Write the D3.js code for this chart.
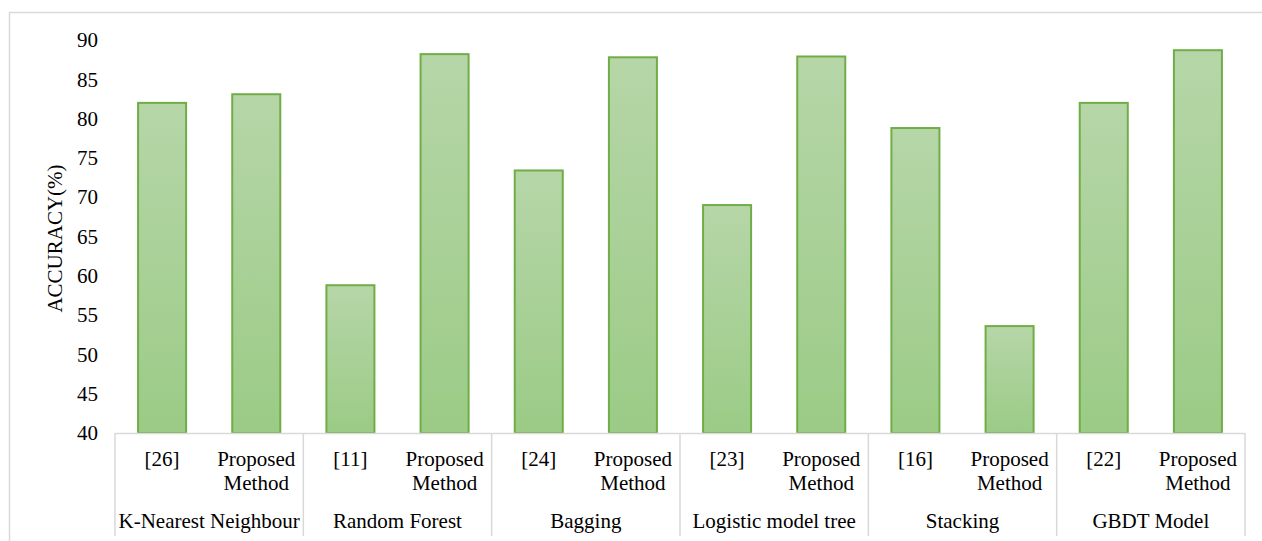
<!DOCTYPE html>
<html>
<head>
<meta charset="utf-8">
<script src="https://cdn.jsdelivr.net/npm/d3@7"></script>
<style>
  html, body { margin: 0; padding: 0; background: #fff; }
  svg { display: block; }
</style>
</head>
<body>
<svg id="chart" width="1262" height="541"></svg>
<script>
// Model groups and the two bars shown in each
const groups = ["K-Nearest Neighbour", "Random Forest", "Bagging", "Logistic model tree", "Stacking", "GBDT Model"];
const refLabels = ["[26]", "[11]", "[24]", "[23]", "[16]", "[22]"];
const refAccuracy = [82.0, 58.8, 73.4, 69.0, 78.8, 82.0];
const proposedAccuracy = [83.1, 88.2, 87.8, 87.9, 53.6, 88.7];
const yTicks = [40, 45, 50, 55, 60, 65, 70, 75, 80, 85, 90];

const FONT = "Liberation Serif";
const FS = "21px";

const bars = [];
groups.forEach((g, i) => {
  bars.push({ key: g + "|0", group: g, lines: [refLabels[i]], value: refAccuracy[i] });
  bars.push({ key: g + "|1", group: g, lines: ["Proposed", "Method"], value: proposedAccuracy[i] });
});

const svg = d3.select("#chart");
const W = 1262, H = 541;
const plotLeft = 115, plotRight = 1245, plotTop = 40, plotBottom = 433;

// chart area border
svg.append("rect")
  .attr("x", 9.5).attr("y", 12.5)
  .attr("width", W + 20).attr("height", H + 20)
  .attr("fill", "none").attr("stroke", "#d9d9d9").attr("stroke-width", 1.5);

const x = d3.scaleBand().domain(bars.map(d => d.key)).range([plotLeft, plotRight]).paddingInner(0.49).paddingOuter(0.245);
const y = d3.scaleLinear().domain([40, 90]).range([plotBottom, plotTop]);

const defs = svg.append("defs");
const grad = defs.append("linearGradient").attr("id", "barFill")
  .attr("x1", 0).attr("y1", 0).attr("x2", 0).attr("y2", 1);
grad.append("stop").attr("offset", "0%").attr("stop-color", "#b6d6a8");
grad.append("stop").attr("offset", "100%").attr("stop-color", "#9bcb86");

// y axis (labels only)
const yAxis = svg.append("g")
  .attr("transform", `translate(${plotLeft - 17},0)`)
  .call(d3.axisLeft(y).tickValues(yTicks).tickSize(0).tickPadding(0));
yAxis.select(".domain").remove();
yAxis.attr("font-family", FONT).attr("font-size", FS);
yAxis.selectAll("text")
  .style("font-family", FONT).style("font-size", FS).style("fill", "#000");

svg.append("text")
  .attr("transform", `translate(62,${(plotTop + plotBottom) / 2 + 2}) rotate(-90)`)
  .attr("text-anchor", "middle")
  .style("font-family", FONT).style("font-size", FS)
  .text("ACCURACY(%)");

// bars
svg.append("g").selectAll("rect").data(bars).join("rect")
  .attr("x", d => x(d.key))
  .attr("y", d => y(d.value))
  .attr("width", x.bandwidth())
  .attr("height", d => y(40) - y(d.value))
  .attr("fill", "url(#barFill)")
  .attr("stroke", "#70ad47")
  .attr("stroke-width", 2);

// category axis: baseline and group separators
const step = x.step();
const axisG = svg.append("g").attr("stroke", "#d9d9d9").attr("stroke-width", 1.5);
axisG.append("line").attr("x1", plotLeft).attr("x2", plotRight).attr("y1", plotBottom + 0.5).attr("y2", plotBottom + 0.5);
d3.range(groups.length + 1).forEach(i => {
  const gx = plotLeft + i * 2 * step;
  axisG.append("line").attr("x1", gx).attr("x2", gx).attr("y1", plotBottom).attr("y2", 536);
});

// inner category labels
const lab = svg.append("g").selectAll("text").data(bars).join("text")
  .attr("text-anchor", "middle")
  .style("font-family", FONT).style("font-size", FS)
  .attr("x", d => x(d.key) + x.bandwidth() / 2);
lab.each(function(d) {
  const t = d3.select(this);
  d.lines.forEach((ln, j) => {
    t.append("tspan").attr("x", x(d.key) + x.bandwidth() / 2).attr("y", 466 + j * 23.5).text(ln);
  });
});

// group labels
svg.append("g").selectAll("text").data(groups).join("text")
  .attr("text-anchor", "middle")
  .style("font-family", FONT).style("font-size", FS)
  .attr("x", (d, i) => plotLeft + (i * 2 + 1) * step)
  .attr("y", 528)
  .text(d => d);
</script>
</body>
</html>
